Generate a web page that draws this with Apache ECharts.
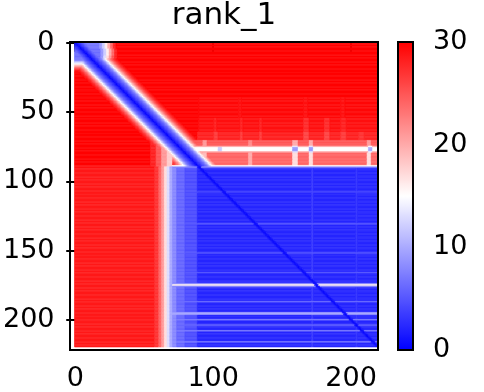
<!DOCTYPE html>
<html><head><meta charset="utf-8">
<script src="https://cdn.jsdelivr.net/npm/echarts@6/dist/echarts.min.js"></script>
<style>html,body{margin:0;padding:0;background:#fff}#chart{width:484px;height:392px}</style>
</head><body><div id="chart"></div>
<script>
const title = 'rank_1';
const size = 220;
const fillValue = 30;
const xTicks = [0, 100, 200];
const yTicks = [0, 50, 100, 150, 200];
const colorbarTicks = [0, 10, 20, 30];
const valueRange = [0, 30];

// background regions: [rowFrom, rowTo, [[colFrom, colTo, value], ...]]
const background = [
  [0, 4,   [[0,17,7],[18,19,9],[20,21,12],[22,23,16],[24,25,20],[26,27,24],[28,29,28]]],
  [5, 9,   [[0,18,6.5],[19,20,9],[21,22,12],[23,24,16],[25,26,20],[27,28,24],[29,30,28]]],
  [10, 11, [[0,18,6.5],[19,20,9],[21,22,13],[23,24,17],[25,26,21],[27,28,25],[29,30,28]]],
  [12, 12, [[0,17,7],[18,19,9],[20,21,13],[22,23,17],[24,25,21],[26,27,25]]],
  [13, 13, [[0,9,8],[10,11,9],[22,23,16],[24,25,20],[26,27,24]]],
  [14, 14, [[0,9,11]]],
  [15, 15, [[0,9,14]]],
  [16, 16, [[0,9,17]]],
  [17, 17, [[0,9,20]]],
  [18, 18, [[0,9,23]]],
  [19, 19, [[0,9,26]]],
  [20, 20, [[0,9,28]]],
  [40, 54, [[90,219,29.5],[119,120,29],[166,168,29],[193,195,29]]],
  [55, 64, [[90,219,29],[101,102,28],[120,121,28],[134,135,28],[166,169,27.5],[181,184,27.5],[193,196,28]]],
  [65, 70, [[89,219,28],[101,103,26.5],[120,121,26.5],[134,135,26.5],[166,169,26],[181,184,26],[193,196,26.5],[206,209,27]]],
  [71, 74, [[55,58,28],[59,62,25],[63,66,21],[67,70,18],[85,219,25],[93,95,21],[126,128,22],[158,161,20],[170,172,20],[212,214,21]]],
  [75, 75, [[55,58,28],[59,62,25],[63,66,21],[67,70,18],[85,219,20],[158,161,14],[170,172,14],[213,215,15]]],
  [76, 78, [[55,58,28],[59,62,25],[63,66,21],[67,70,18],[85,219,15],[104,106,12],[158,161,9],[170,172,9],[213,215,10]]],
  [79, 79, [[55,58,28],[59,62,25],[63,66,21],[67,70,18],[85,219,20],[158,161,13],[170,172,13],[213,215,14]]],
  [80, 88, [[55,58,28],[59,62,25],[63,66,21],[67,70,18],[85,219,24],[93,95,19],[126,128,20],[158,161,17],[170,172,17],[212,214,17]]],
  [89, 89, [[0,54,29],[55,58,28],[59,62,25],[63,66,21],[67,70,18],[71,219,15]]],
  [90, 90, [[0,57,29],[58,60,27],[61,62,24],[63,64,21],[65,66,17],[67,68,13],[69,70,10],[71,219,8]]],
  [91, 219, [[0,57,28.5],[58,60,27],[61,62,24],[63,64,21],[65,66,17],[67,68,13],[69,70,10],[71,73,8],[74,79,6],[80,88,4.5],[89,219,2.3]]]
];

// lighter horizontal stripes in the blue block: [row, colFrom, colTo, value]
const rowStripes = [
  [108,71,219,4], [131,71,219,5], [152,71,219,5], [166,71,219,4.5],
  [174,71,219,8], [175,71,219,16], [176,71,219,8], [187,71,219,6],
  [195,71,219,9], [196,71,219,10], [200,71,219,7], [204,71,219,6],
  [208,71,219,7], [216,71,219,7]
];
// lighter vertical streaks in the blue block: [col, rowFrom, rowTo, value]
const colStripes = [[172,91,219,4], [204,91,219,3.5]];

// diagonal band: value by distance from the diagonal
const bandUpperRows = [0, 89];
const bandUpper = [0.3,1.5,2.5,3.5,4.5,5.5,6.5,8,10,12.5,15,17.5,20,22,24,25.5,27,28,29,30];
const bandLowerRows = [90, 219];
const bandLower = [0.4, 1.2];

// ---- assemble matrix ----
const M = [];
for (let r = 0; r < size; r++) M.push(new Array(size).fill(fillValue));
background.forEach(([r0, r1, segs]) => {
  for (let r = r0; r <= r1; r++) segs.forEach(([c0, c1, v]) => { for (let c = c0; c <= c1; c++) M[r][c] = v; });
});
rowStripes.forEach(([r, c0, c1, v]) => { for (let c = c0; c <= c1; c++) M[r][c] = Math.max(M[r][c], v); });
colStripes.forEach(([c, r0, r1, v]) => { for (let r = r0; r <= r1; r++) M[r][c] = Math.max(M[r][c], v); });
function applyBand(rows, prof) {
  for (let r = rows[0]; r <= rows[1]; r++) {
    for (let d = 0; d < prof.length; d++) {
      [r - d, r + d].forEach(c => { if (c >= 0 && c < size) M[r][c] = Math.min(M[r][c], prof[d]); });
    }
  }
}
applyBand(bandUpperRows, bandUpper);
applyBand(bandLowerRows, bandLower);

// run-length cells per row: [colFrom, colTo, row, value]
const cells = [];
for (let r = 0; r < size; r++) {
  let c0 = 0;
  for (let c = 1; c <= size; c++) {
    if (c === size || M[r][c] !== M[r][c0]) { cells.push([c0, c - 1, r, M[r][c0]]); c0 = c; }
  }
}

const font = 'DejaVu Sans';
const chart = echarts.init(document.getElementById('chart'), null, {renderer: 'canvas'});
chart.setOption({
  animation: false,
  backgroundColor: '#fff',
  title: {
    text: title, left: 224, top: 0, padding: 0, textAlign: 'center',
    textStyle: {fontFamily: font, fontSize: 31, fontWeight: 'normal', color: '#000'}
  },
  grid: [
    {left: 70, top: 42, width: 308, height: 308},
    {left: 398, top: 42, width: 15, height: 308}
  ],
  xAxis: [
    {gridIndex: 0, type: 'value', min: -0.5, max: 219.5, position: 'bottom',
     axisLine: {show: false}, splitLine: {show: false},
     axisTick: {show: true, customValues: xTicks, length: 9, lineStyle: {color: '#000', width: 2}},
     axisLabel: {customValues: xTicks, fontFamily: font, fontSize: 27, color: '#000', margin: 18}},
    {gridIndex: 1, type: 'value', min: 0, max: 1, show: false}
  ],
  yAxis: [
    {gridIndex: 0, type: 'value', min: -0.5, max: 219.5, inverse: true,
     axisLine: {show: false}, splitLine: {show: false},
     axisTick: {show: true, customValues: yTicks, length: 9, lineStyle: {color: '#000', width: 2}},
     axisLabel: {customValues: yTicks, fontFamily: font, fontSize: 27, color: '#000', margin: 20}},
    {gridIndex: 1, type: 'value', min: valueRange[0], max: valueRange[1], position: 'right',
     axisLine: {show: false}, splitLine: {show: false},
     axisTick: {show: true, customValues: colorbarTicks, length: 9, lineStyle: {color: '#000', width: 2}},
     axisLabel: {customValues: colorbarTicks, fontFamily: font, fontSize: 27, color: '#000', margin: 20}}
  ],
  visualMap: {
    type: 'continuous', min: valueRange[0], max: valueRange[1], dimension: 3, seriesIndex: 0,
    inRange: {color: ['#0000ff', '#ffffff', '#ff0000']},
    orient: 'vertical', left: 398, top: 42, itemWidth: 15, itemHeight: 308,
    calculable: false, padding: 0, hoverLink: false, text: null
  },
  series: [{
    type: 'custom', xAxisIndex: 0, yAxisIndex: 0, progressive: 0,
    encode: {x: [0, 1], y: 2},
    data: cells,
    renderItem: function (params, api) {
      const p0 = api.coord([api.value(0) - 0.5, api.value(2) - 0.5]);
      const p1 = api.coord([api.value(1) + 0.5, api.value(2) + 0.5]);
      const color = api.visual('color');
      return {
        type: 'rect',
        shape: {x: Math.min(p0[0], p1[0]), y: Math.min(p0[1], p1[1]),
                width: Math.abs(p1[0] - p0[0]), height: Math.abs(p1[1] - p0[1])},
        style: {fill: color, stroke: color, lineWidth: 0.6}
      };
    }
  }],
  graphic: [
    {type: 'rect', silent: true, z: 100, shape: {x: 70, y: 42, width: 308, height: 308},
     style: {fill: 'transparent', stroke: '#000', lineWidth: 2}},
    {type: 'rect', silent: true, z: 100, shape: {x: 398, y: 42, width: 15, height: 308},
     style: {fill: 'transparent', stroke: '#000', lineWidth: 2}}
  ]
});
</script></body></html>
